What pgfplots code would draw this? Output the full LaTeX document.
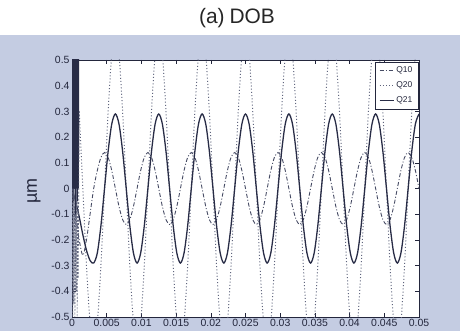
\documentclass[border=0pt]{standalone}
\usepackage{pgfplots}
\pgfplotsset{compat=1.18}
\usepackage{pgfplotstable}
\usepackage{fontspec}
\setmainfont{Liberation Sans}
\definecolor{scanbg}{RGB}{196,204,226}
\definecolor{cQa}{RGB}{70,75,100}
\definecolor{cQb}{RGB}{95,100,125}
\definecolor{cQc}{RGB}{40,44,70}
\definecolor{axcol}{RGB}{35,38,60}

\pgfplotstableread{
t q10 q20 q21
0 0 nan 0
0.000521 -0.10 nan -0.05
0.001042 -0.20 0.3 -0.11
0.001563 -0.26 0 -0.18
0.002083 -0.20 -0.3 -0.24
0.002604 -0.10 -0.52 -0.28
0.003125 0 -0.6 -0.29
0.003646 0.07 -0.52 -0.251
0.004167 0.121 -0.3 -0.145
0.004688 0.14 0 0
0.005208 0.121 0.3 0.145
0.005729 0.07 0.52 0.251
0.00625 0 0.6 0.29
0.006771 -0.07 0.52 0.251
0.007292 -0.121 0.3 0.145
0.007813 -0.14 0 0
0.008333 -0.121 -0.3 -0.145
0.008854 -0.07 -0.52 -0.251
0.009375 0 -0.6 -0.29
0.009896 0.07 -0.52 -0.251
0.010417 0.121 -0.3 -0.145
0.010938 0.14 0 0
0.011458 0.121 0.3 0.145
0.011979 0.07 0.52 0.251
0.0125 0 0.6 0.29
0.013021 -0.07 0.52 0.251
0.013542 -0.121 0.3 0.145
0.014063 -0.14 0 0
0.014583 -0.121 -0.3 -0.145
0.015104 -0.07 -0.52 -0.251
0.015625 0 -0.6 -0.29
0.016146 0.07 -0.52 -0.251
0.016667 0.121 -0.3 -0.145
0.017188 0.14 0 0
0.017708 0.121 0.3 0.145
0.018229 0.07 0.52 0.251
0.01875 0 0.6 0.29
0.019271 -0.07 0.52 0.251
0.019792 -0.121 0.3 0.145
0.020313 -0.14 0 0
0.020833 -0.121 -0.3 -0.145
0.021354 -0.07 -0.52 -0.251
0.021875 0 -0.6 -0.29
0.022396 0.07 -0.52 -0.251
0.022917 0.121 -0.3 -0.145
0.023438 0.14 0 0
0.023958 0.121 0.3 0.145
0.024479 0.07 0.52 0.251
0.025 0 0.6 0.29
0.025521 -0.07 0.52 0.251
0.026042 -0.121 0.3 0.145
0.026563 -0.14 0 0
0.027083 -0.121 -0.3 -0.145
0.027604 -0.07 -0.52 -0.251
0.028125 0 -0.6 -0.29
0.028646 0.07 -0.52 -0.251
0.029167 0.121 -0.3 -0.145
0.029688 0.14 0 0
0.030208 0.121 0.3 0.145
0.030729 0.07 0.52 0.251
0.03125 0 0.6 0.29
0.031771 -0.07 0.52 0.251
0.032292 -0.121 0.3 0.145
0.032813 -0.14 0 0
0.033333 -0.121 -0.3 -0.145
0.033854 -0.07 -0.52 -0.251
0.034375 0 -0.6 -0.29
0.034896 0.07 -0.52 -0.251
0.035417 0.121 -0.3 -0.145
0.035938 0.14 0 0
0.036458 0.121 0.3 0.145
0.036979 0.07 0.52 0.251
0.0375 0 0.6 0.29
0.038021 -0.07 0.52 0.251
0.038542 -0.121 0.3 0.145
0.039063 -0.14 0 0
0.039583 -0.121 -0.3 -0.145
0.040104 -0.07 -0.52 -0.251
0.040625 0 -0.6 -0.29
0.041146 0.07 -0.52 -0.251
0.041667 0.121 -0.3 -0.145
0.042188 0.14 0 0
0.042708 0.121 0.3 0.145
0.043229 0.07 0.52 0.251
0.04375 0 0.6 0.29
0.044271 -0.07 0.52 0.251
0.044792 -0.121 0.3 0.145
0.045313 -0.14 0 0
0.045833 -0.121 -0.3 -0.145
0.046354 -0.07 -0.52 -0.251
0.046875 0 -0.6 -0.29
0.047396 0.07 -0.52 -0.251
0.047917 0.121 -0.3 -0.145
0.048438 0.14 0 0
0.048958 0.121 0.3 0.145
0.049479 0.07 0.52 0.251
0.05 0 0.6 0.29
}\datatable

\begin{document}
\begin{tikzpicture}
\path[use as bounding box] (0,0) rectangle (460bp,-331bp);
\fill[white] (0,0) rectangle (460bp,-331bp);
\fill[scanbg] (0,-35bp) rectangle (460bp,-331bp);
\node[text=black!85, font=\fontsize{21}{23}\selectfont] at (237bp,-18bp) {(a)\hspace{5bp}DOB};
\begin{axis}[
  at={(72bp,-317bp)}, anchor=south west,
  scale only axis, width=347bp, height=257bp,
  xmin=0, xmax=0.05, ymin=-0.5, ymax=0.5,
  axis background/.style={fill=white},
  axis line style={axcol, line width=0.9pt},
  tick style={axcol, line width=0.6pt},
  major tick length=4bp,
  xtick={0,0.005,...,0.05},
  ytick={-0.5,-0.4,...,0.5},
  scaled x ticks=false,
  xticklabel style={/pgf/number format/fixed, /pgf/number format/precision=3, /pgf/number format/assume math mode=true, font=\fontsize{10.5}{11}\selectfont, text=axcol, yshift=1bp},
  yticklabel style={/pgf/number format/fixed, /pgf/number format/precision=1, /pgf/number format/assume math mode=true, font=\fontsize{10.5}{11}\selectfont, text=axcol, xshift=1bp},
  ylabel={µm},
  every axis y label/.style={at={(axis description cs:-0.11,0.49)}, rotate=90, anchor=center, font=\fontsize{18}{19}\selectfont, text=axcol},
  legend style={at={(rel axis cs:0.999,0.994)}, anchor=north east, draw=axcol, line width=0.7pt, font=\fontsize{8.5}{9}\selectfont, text=axcol, inner xsep=4bp, inner ysep=3bp, row sep=3.5bp, cells={anchor=west}},
  legend image code/.code={\draw[#1] (0bp,0bp) -- (14bp,0bp);},
  clip=true,
]
\addplot[cQa, line width=0.9pt, dash pattern=on 4bp off 2bp on 1bp off 2bp, smooth] table[x=t, y=q10] {\datatable};
\addlegendentry{Q10}
\addplot[cQb, line width=1pt, dash pattern=on 1bp off 2.2bp, smooth] table[x=t, y=q20] {\datatable};
\addlegendentry{Q20}
\addplot[cQc, line width=1.3pt, smooth] table[x=t, y=q21] {\datatable};
\addlegendentry{Q21}
\addplot[cQc, line width=1.1pt, forget plot] coordinates {
(0,0.55) (0.00004,0.0) (0.00008,0.55) (0.00012,0.05) (0.00016,0.55) (0.0002,-0.05)
(0.00024,0.55) (0.00028,0.1) (0.00032,0.55) (0.00036,0.0) (0.0004,0.55) (0.00044,0.05)
(0.00048,0.55) (0.00052,-0.1) (0.00056,0.55) (0.0006,0.0) (0.00064,0.55) (0.00068,0.05)
(0.00072,0.55) (0.00076,-0.05) (0.0008,0.55) (0.00084,0.1) (0.00088,0.55) (0.00092,0.0)
(0.00096,0.55)};
\addplot[cQb, line width=0.6pt, dash pattern=on 2bp off 1.5bp, forget plot] coordinates {
(0.00002,0.0) (0.0001,-0.5) (0.00018,0.0) (0.00026,-0.45) (0.00034,0.0) (0.00042,-0.5)
(0.0005,-0.1) (0.00058,-0.4) (0.00066,0.0) (0.00074,-0.5) (0.00082,-0.05) (0.0009,-0.35)
(0.00098,0.0) (0.001042,0.3)};
\end{axis}
\end{tikzpicture}
\end{document}
